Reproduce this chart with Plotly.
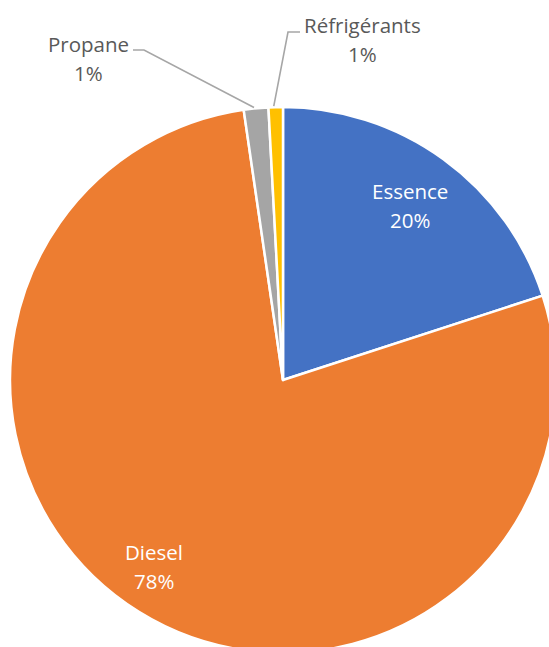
import math
import plotly.graph_objects as go

# Emission shares by energy source (%)
labels = ["Essence", "Diesel", "Propane", "Réfrigérants"]
values = [20.0, 77.7, 1.45, 0.85]
colors = ["#4472C4", "#ED7D31", "#A5A5A5", "#FFC000"]

# Canvas and pie geometry (pixels)
W, H = 560, 660
CX, CY, R = 283, 380, 273

def px(x):
    return x / W

def py(y):
    return 1 - y / H

fig = go.Figure(
    go.Pie(
        labels=labels,
        values=values,
        marker=dict(colors=colors, line=dict(color="white", width=2.5)),
        sort=False,
        direction="clockwise",
        rotation=0,
        textinfo="none",
        hoverinfo="label+percent",
        domain=dict(x=[px(CX - R), px(CX + R)], y=[py(CY + R), py(CY - R)]),
    )
)

total = sum(values)
start = 0.0
mids = []
for v in values:
    span = 360.0 * v / total
    mids.append(start + span / 2)
    start += span

def polar(angle_deg, r):
    a = math.radians(angle_deg)
    return CX + r * math.sin(a), CY - r * math.cos(a)

font_family = "'Open Sans', Lato, sans-serif"
FS = 20.5
LINE_GAP = 29
annotations = []
shapes = []

def add_label(i, x, y, color):
    # two-line label: category name above, rounded share below
    lines = [labels[i], f"{round(100 * values[i] / total)}%"]
    for k, t in enumerate(lines):
        yy = y + (k - 0.5) * LINE_GAP
        annotations.append(dict(
            x=px(x), y=py(yy), xref="paper", yref="paper",
            text=t, showarrow=False, xanchor="center", yanchor="middle",
            font=dict(family=font_family, size=FS, color=color),
        ))

# Labels inside the two large slices
inside = {0: (0.79, 0.0), 1: (0.83, 2.7)}
for i, (rf, dang) in inside.items():
    x, y = polar(mids[i] + dang, rf * R)
    add_label(i, x, y, "white")

# Labels outside the two thin slices, with leader lines
outside = {
    2: dict(label=(88, 58), elbow=[(133, 50), (144, 50)]),
    3: dict(label=(362, 40), elbow=[(300, 32), (288, 32)]),
}
for i, cfg in outside.items():
    lx, ly = cfg["label"]
    add_label(i, lx, ly, "#595959")
    ex, ey = polar(mids[i] - 0.4, R + 1)
    pts = cfg["elbow"] + [(ex, ey)]
    path = "M " + " L ".join(f"{px(a)},{py(b)}" for a, b in pts)
    shapes.append(dict(type="path", xref="paper", yref="paper", path=path,
                       line=dict(color="#A6A6A6", width=1.6)))

fig.update_layout(
    width=W, height=H,
    margin=dict(l=0, r=0, t=0, b=0),
    paper_bgcolor="white", plot_bgcolor="white",
    showlegend=False,
    annotations=annotations,
    shapes=shapes,
)

fig.write_html(
    "out.html",
    post_script="document.body.style.margin='0';document.body.style.overflow='hidden';document.documentElement.style.overflow='hidden';",
)
